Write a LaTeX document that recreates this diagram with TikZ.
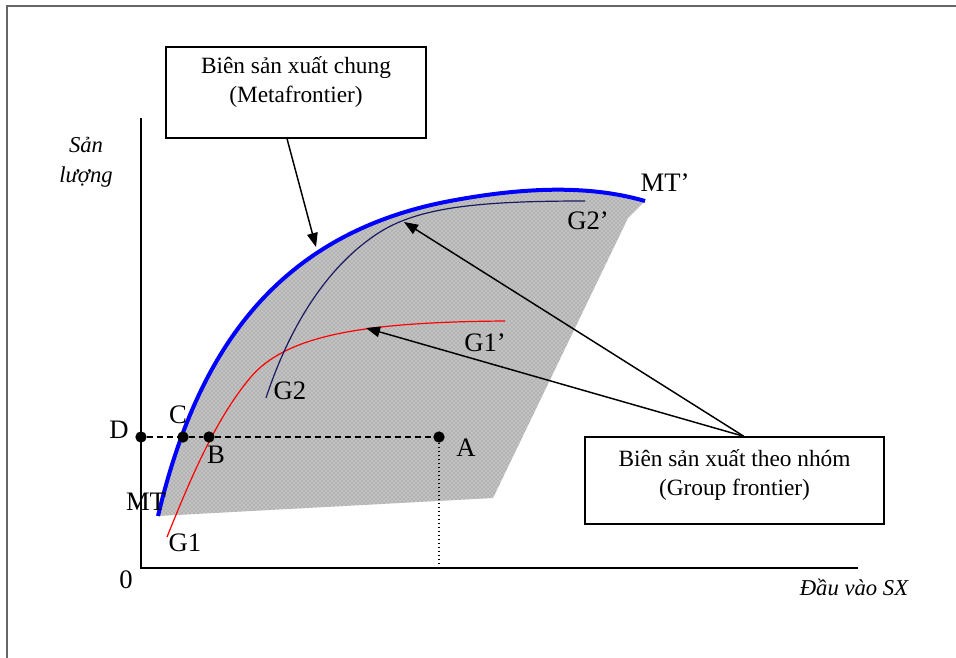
\documentclass[tikz,border=0pt]{standalone}
\usepackage{fontspec}
\setmainfont{Liberation Serif}
\usetikzlibrary{arrows.meta,patterns,positioning}
\definecolor{navyline}{RGB}{25,25,100}

\begin{document}
\begin{tikzpicture}[x=0.75pt, y=-0.75pt]
	% Define styles
	\tikzstyle{infobox} = [rectangle, draw, line width=1pt, inner sep=0pt]
	\tikzstyle{boxtext} = [align=center, inner sep=0pt, font=\fontsize{17.5}{21.75}\selectfont]
	\tikzstyle{lbl} = [inner sep=0pt, font=\fontsize{20}{24}\selectfont]
	\tikzstyle{axislbl} = [inner sep=0pt, align=center, font=\fontsize{17}{22.5}\selectfont\itshape]
	\tikzstyle{dot} = [circle, fill=black, inner sep=0pt, minimum size=8.5pt]
	\tikzstyle{pointer} = [-{Triangle[length=10.5pt, width=8pt]}, line width=1.1pt]
	\tikzstyle{hatch} = [fill=black!30, postaction={pattern=crosshatch dots, pattern color=white}]
	\tikzstyle{mtline} = [blue, line width=3pt]
	\tikzstyle{gone} = [red, line width=0.9pt]
	\tikzstyle{gtwo} = [navyline, line width=0.9pt]

	\useasboundingbox (0,0) rectangle (956,657);

	% Frame
	\draw[black!60, line width=1.3pt] (7,660) -- (7,6) -- (960,6);

	% Shaded area and axes
	\fill[hatch] (158,516) .. controls (195,360) and (270,235) .. (450,201)
		.. controls (540,184) and (600,188) .. (645,201) -- (628,218) -- (493,498) -- cycle;
	\coordinate (ytop) at (141,118);
	\coordinate (origin) at (141,568);
	\coordinate (xend) at (858,568);
	\draw[line width=1pt] (ytop) -- (origin) -- (xend);

	% Frontiers
	\draw[gone] (167,537) .. controls (190,480) and (215,420) .. (250,378)
		.. controls (285,336) and (360,322) .. (505,321);
	\draw[gtwo] (266,398) .. controls (285,340) and (320,270) .. (380,232)
		.. controls (420,207) and (480,201) .. (585,201);
	\draw[mtline] (158,516) .. controls (195,360) and (270,235) .. (450,201)
		.. controls (540,184) and (600,188) .. (645,201);

	% Points
	\node[dot] (D) at (141,437) {};
	\node[dot] (C) at (183,437) {};
	\node[dot] (B) at (209,437) {};
	\node[dot] (A) at (439,437) {};
	\coordinate (Afoot) at (439,568);
	\draw[dash pattern=on 4.5pt off 3pt, line width=1pt] (D) -- (C) -- (B) -- (A);
	\draw[dotted, line width=1pt] (A) -- (Afoot);

	% Labels
	\node[lbl] (lD) at (119,430) {D};
	\node[lbl] (lC) at (178,415) {C};
	\node[lbl] (lB) at (216,455) {B};
	\node[lbl] (lA) at (466,448) {A};
	\node[lbl] (lMT) at (146,502) {MT};
	\node[lbl] (lG1) at (185,543) {G1};
	\node[lbl] (lG2) at (290,391) {G2};
	\node[lbl] (lG1p) at (485,343) {G1’};
	\node[lbl] (lG2p) at (588,221) {G2’};
	\node[lbl] (lMTp) at (665,183) {MT’};
	\node[lbl] (lO) at (126,580) {0};
	\node[axislbl] (ylbl) at (86,162) {Sản\\lượng};
	\node[axislbl] (xlbl) at (854,587) {Đầu vào SX};

	% Boxes
	\node[infobox, minimum width=195pt, minimum height=68.25pt] (meta) at (296,92.5) {};
	\node[boxtext] (metatext) at (296,82.5) {Biên sản xuất chung\\(Metafrontier)};
	\node[infobox, minimum width=224.25pt, minimum height=65.25pt] (group) at (734.5,480.5) {};
	\node[boxtext] (grouptext) at (734.5,475) {Biên sản xuất theo nhóm\\(Group frontier)};

	% Arrows
	\coordinate (metatip) at (316,247);
	\coordinate (g2tip) at (404,222);
	\coordinate (g1tip) at (366,328);
	\draw[pointer] ([xshift=-6.75pt]meta.south) -- (metatip);
	\draw[pointer] ([xshift=7pt]group.north) -- (g2tip);
	\draw[pointer] ([xshift=7pt]group.north) -- (g1tip);
\end{tikzpicture}
\end{document}
